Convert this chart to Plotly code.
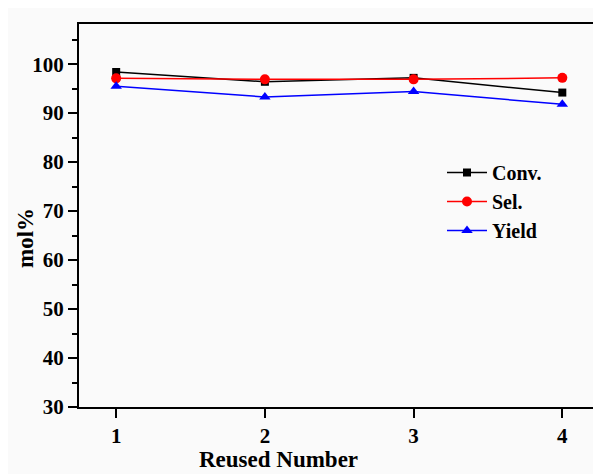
import plotly.graph_objects as go

reuse = [1, 2, 3, 4]
conv = [98.4, 96.4, 97.2, 94.2]
sel = [97.1, 96.9, 96.9, 97.2]
yld = [95.5, 93.3, 94.4, 91.8]
yticks = [30, 40, 50, 60, 70, 80, 90, 100]

font_family = "Liberation Serif"

# figure size (page body has an 8px margin)
W, H = 593, 466
ML, MR, MT, MB = 71, 3, 16, 67
PW, PH = W - ML - MR, H - MT - MB

def px(x):
    return (x - 8 - ML) / PW

def py(y):
    return (H - MB - (y - 8)) / PH

fig = go.Figure()
fig.add_trace(go.Scatter(x=reuse, y=conv, name="<b>Conv.</b>", mode="lines+markers",
                         line=dict(color="black", width=1.5),
                         marker=dict(symbol="square", size=8, color="black")))
fig.add_trace(go.Scatter(x=reuse, y=sel, name="<b>Sel.</b>", mode="lines+markers",
                         line=dict(color="red", width=1.5),
                         marker=dict(symbol="circle", size=10, color="red")))
fig.add_trace(go.Scatter(x=reuse, y=yld, name="<b>Yield</b>", mode="lines+markers",
                         line=dict(color="blue", width=1.5),
                         marker=dict(symbol="triangle-up", size=10, color="blue")))

fig.update_layout(
    width=W, height=H,
    margin=dict(l=ML, r=MR, t=MT, b=MB, autoexpand=False),
    paper_bgcolor="#fafafa", plot_bgcolor="#fafafa",
    font=dict(family=font_family, size=21, color="black"),
    legend=dict(x=px(442), y=py(153), xanchor="left", yanchor="top",
                bgcolor="rgba(0,0,0,0)", font=dict(size=20, family=font_family),
                tracegroupgap=0, itemwidth=40),
    showlegend=True,
    annotations=[
        dict(text="<b>mol%</b>", x=px(25), y=py(238), xref="paper", yref="paper",
             showarrow=False, textangle=-90, font=dict(size=23),
             xanchor="center", yanchor="middle"),
        dict(text="<b>Reused Number</b>", x=px(278), y=py(459), xref="paper", yref="paper",
             showarrow=False, font=dict(size=23),
             xanchor="center", yanchor="middle"),
    ],
)

fig.update_xaxes(
    range=[0.75, 4.24], tickvals=reuse, ticktext=["<b>%d</b>" % v for v in reuse],
    ticks="outside", ticklen=9, tickwidth=2, tickcolor="black",
    showline=True, linewidth=2, linecolor="black", mirror=True,
    showgrid=False, zeroline=False, automargin=False,
)
fig.update_yaxes(
    range=[30, 108.2], tickvals=yticks,
    ticktext=["<b>%d</b>" % v for v in yticks],
    ticks="outside", ticklen=9, tickwidth=2, tickcolor="black",
    minor=dict(ticks="outside", dtick=5, tick0=0, ticklen=5, tickwidth=2, tickcolor="black"),
    showline=True, linewidth=2, linecolor="black", mirror=True,
    showgrid=False, zeroline=False, automargin=False,
)

fig.write_html("out.html")
